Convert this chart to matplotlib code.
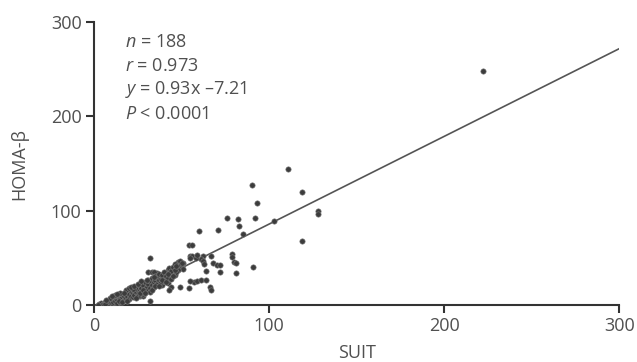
import matplotlib
matplotlib.use("Agg")
import matplotlib.pyplot as plt
import numpy as np

plt.rcParams['font.family'] = ['Open Sans', 'DejaVu Sans']
plt.rcParams['mathtext.fontset'] = 'custom'
plt.rcParams['mathtext.rm'] = 'Open Sans'
plt.rcParams['mathtext.it'] = 'Open Sans:italic'

# points (SUIT, HOMA-beta)
suit = [222, 111, 90, 119, 93, 76, 82, 92, 83, 103, 85, 71, 60, 128, 128, 119,
        79, 79, 80, 81, 81, 91, 67, 62, 61, 62, 55, 56, 58, 55, 54, 56, 68, 70,
        72, 72, 64, 63, 66, 67, 54, 49, 57, 59, 61, 64, 32, 31, 33, 48, 49, 51,
        50, 51, 47, 48, 42, 43, 45, 46, 38, 39, 36, 34, 36, 39, 42, 44, 43, 55,
        59, 32, 26, 28, 47,
        3, 4, 5, 6, 7, 8, 8, 9, 10, 10,
        11, 11, 12, 12, 13, 13, 14, 14, 15, 15,
        16, 16, 17, 17, 18, 18, 19, 19, 20, 20,
        21, 21, 22, 22, 23, 23, 24, 24, 25, 25,
        26, 26, 27, 27, 28, 28, 29, 29, 30, 30,
        31, 31, 32, 32, 33, 33, 34, 34, 35, 35,
        36, 36, 37, 37, 38, 38, 39, 40, 40, 41,
        42, 43, 44, 44, 45, 46, 46, 47, 49, 50,
        9, 12, 14, 16, 18, 20, 22, 24, 26, 28,
        30, 32, 34, 6, 7, 10, 15, 19, 21, 23,
        25, 27, 29, 33, 35, 37, 39, 41, 42, 45,
        2, 17, 13]
homa = [248, 144, 127, 120, 108, 92, 91, 92, 84, 89, 75, 80, 78, 100, 97, 68,
        54, 51, 46, 44, 34, 40, 52, 52, 49, 47, 52, 52, 50, 50, 64, 64, 44, 42,
        42, 35, 36, 43, 19, 16, 18, 19, 24, 25, 26, 27, 50, 35, 35, 46, 42, 44,
        39, 38, 38, 37, 37, 34, 34, 32, 32, 30, 34, 35, 25, 21, 23, 19, 16, 25,
        53, 4, 9, 9, 35,
        1, 2, 1, 3, 2, 4, 1, 3, 5, 2,
        6, 3, 4, 8, 5, 2, 7, 10, 6, 3,
        8, 12, 5, 9, 11, 7, 14, 9, 12, 6,
        10, 15, 13, 8, 16, 11, 14, 18, 12, 9,
        16, 20, 14, 18, 21, 12, 17, 24, 19, 15,
        22, 27, 18, 25, 21, 29, 24, 19, 27, 31,
        22, 29, 26, 33, 24, 28, 32, 27, 35, 31,
        29, 39, 36, 28, 40, 37, 43, 41, 47, 45,
        7, 11, 4, 3, 16, 18, 17, 7, 13, 16,
        26, 14, 30, 1, 5, 9, 13, 4, 19, 20,
        22, 25, 13, 16, 20, 20, 26, 24, 33, 31,
        0, 13, 12]

slope = 0.93
intercept = -7.21
stats_lines = ["$n$ = 188", "$r$ = 0.973", "$y$ = 0.93x \u20137.21", "$P$ < 0.0001"]

fig = plt.figure(figsize=(6.37, 3.62), dpi=100)
ax = fig.add_axes([0.1476, 0.1575, 0.8245, 0.7815])

ax.scatter(suit, homa, s=15, color='#3c3c3c', edgecolors='#808080', linewidths=0.4, zorder=3)

lx = np.array([-intercept / slope, 300])
ax.plot(lx, slope * lx + intercept, color='#555555', lw=1.2, zorder=2)

ax.set_xlim(0, 300)
ax.set_ylim(0, 300)
ax.set_xticks([0, 100, 200, 300])
ax.set_yticks([0, 100, 200, 300])
for s in ['top', 'right']:
    ax.spines[s].set_visible(False)
for s in ['left', 'bottom']:
    ax.spines[s].set_color('#333333')
    ax.spines[s].set_linewidth(1.5)
ax.tick_params(direction='out', length=6, width=1.5, color='#333333',
               labelsize=13, labelcolor='#505050', pad=3)

ax.set_xlabel('SUIT', fontsize=13, color='#505050', labelpad=6)
ax.set_ylabel('HOMA-\u03b2', fontsize=13, color='#505050', labelpad=16)

for i, line in enumerate(stats_lines):
    ax.text(17.5, 279 - i * 25.5, line, fontsize=13, color='#505050', va='center', ha='left')

fig.savefig('out.png', dpi=100)
